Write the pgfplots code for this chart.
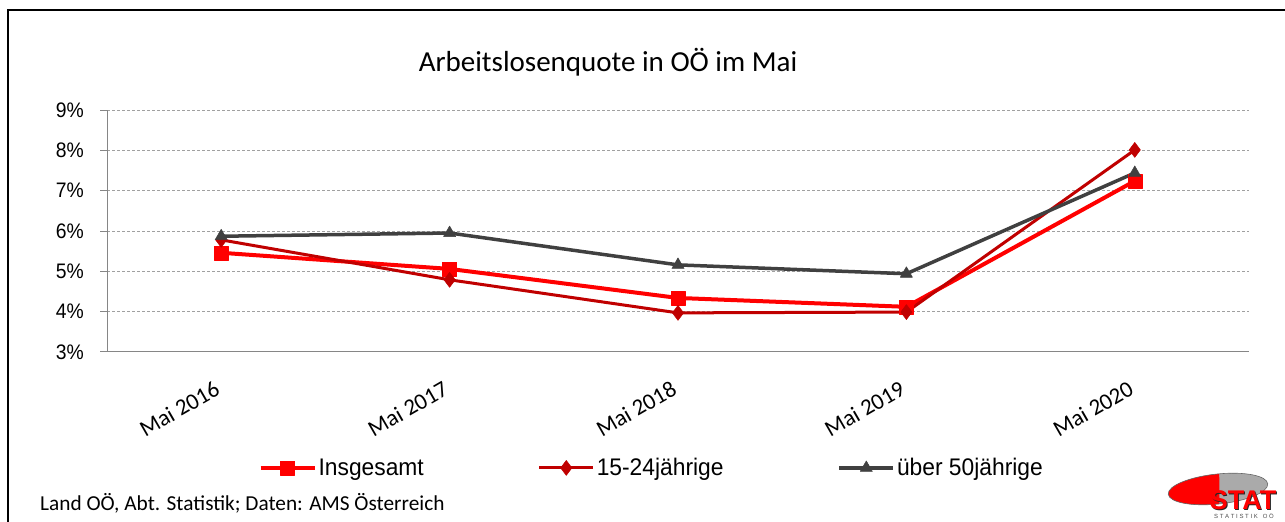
\documentclass[border=0pt]{standalone}
\usepackage{fontspec}
\setmainfont{Carlito}
\newfontfamily\narrowfont[FakeStretch=0.92]{Liberation Sans}
\newfontfamily\legfont[FakeStretch=0.95]{Liberation Sans}
\newfontfamily\logofont{Liberation Sans}
\usepackage{pgfplots}
\pgfplotsset{compat=1.18}
\definecolor{cIns}{RGB}{255,0,0}
\definecolor{cJug}{RGB}{192,0,0}
\definecolor{cAlt}{RGB}{64,64,64}
\definecolor{axgray}{RGB}{134,134,134}
\definecolor{gridgray}{RGB}{160,160,160}
\definecolor{logogray}{RGB}{170,170,170}
\begin{document}
\begin{tikzpicture}[x=1pt,y=1pt]
\useasboundingbox (0pt,0pt) rectangle (1285pt,522pt);
% frame
\draw[line width=1.3pt,black] (8pt,-10pt) rectangle (1300pt,512pt);
% title
\node[font=\fontsize{29}{34}\selectfont] at (608pt,460pt) {Arbeitslosenquote in OÖ im Mai};
\begin{axis}[
  at={(107pt,170pt)}, anchor=south west,
  scale only axis, width=1142pt, height=242pt,
  xmin=-0.5, xmax=4.5, ymin=3, ymax=9,
  axis x line*=bottom, axis y line*=left,
  axis line style={-, axgray, line width=1pt},
  xtick={0,1,2,3,4},
  xticklabels={Mai 2016,Mai 2017,Mai 2018,Mai 2019,Mai 2020},
  major x tick style={draw=none},
  extra x ticks={-0.5,0.5,1.5,2.5,3.5,4.5},
  extra x tick labels={},
  extra x tick style={major tick length=6pt, tick style={axgray,line width=1pt}},
  xticklabel style={font=\fontsize{23}{27}\selectfont, rotate=30, anchor=north east, inner sep=0pt, xshift=-17pt, yshift=-14pt},
  ytick={3,4,5,6,7,8,9},
  yticklabels={3\%,4\%,5\%,6\%,7\%,8\%,9\%},
  yticklabel style={font=\narrowfont\fontsize{21}{25}\selectfont, inner sep=0pt, xshift=-16pt},
  tick align=outside, major tick length=7pt,
  y tick style={axgray, line width=1pt},
  ymajorgrids,
  grid style={gridgray, dash pattern=on 3pt off 2pt, line width=1pt},
  clip=false,
  legend columns=3,
  legend style={at={(0.477,-0.479)}, anchor=center, draw=none, fill=none,
    font=\legfont\fontsize{24}{28}\selectfont,
    /tikz/every even column/.append style={column sep=112pt},
    inner sep=0pt},
  legend image code/.code={
    \draw[mark repeat=2,mark phase=2,#1] plot coordinates {(0pt,0pt) (27pt,0pt) (54pt,0pt)};},
]
\addplot[cIns, line width=4pt, line join=round, mark=square*, mark size=7pt, mark options={solid, line width=0.5pt}] coordinates {(0,5.46) (1,5.06) (2,4.34) (3,4.12) (4,7.24)};
\addlegendentry{Insgesamt}
\addplot[cJug, line width=3pt, line join=round, mark=diamond*, mark size=7.5pt, mark options={solid, line width=0.5pt}] coordinates {(0,5.78) (1,4.79) (2,3.97) (3,3.99) (4,8.01)};
\addlegendentry{15-24jährige}
\addplot[cAlt, line width=3.5pt, line join=round, mark=triangle*, mark size=7pt, mark options={solid, line width=0.5pt}] coordinates {(0,5.87) (1,5.95) (2,5.16) (3,4.94) (4,7.44)};
\addlegendentry{über 50jährige}
\end{axis}
% footer
\node[anchor=base west, font=\fontsize{21.3}{25}\selectfont, inner sep=0pt] at (40pt,12pt) {Land OÖ, Abt. Statistik; Daten: AMS Österreich};
% logo
\begin{scope}[rotate around={6:(1218pt,33pt)}]
\clip (1218pt,33pt) ellipse (50pt and 15pt);
\fill[logogray] (1160pt,0pt) rectangle (1285pt,60pt);
\fill[cIns] (1160pt,0pt) -- (1160pt,60pt) -- (1222pt,60pt) -- (1216pt,0pt) -- cycle;
\end{scope}
\draw[black!60, line width=0.6pt, rotate around={6:(1218pt,33pt)}] (1218pt,33pt) ellipse (50pt and 15pt);
\node[font=\logofont\bfseries\fontsize{27}{29}\selectfont, text=black!85, inner sep=0pt] at (1244pt,21pt) {STAT};
\node[font=\logofont\bfseries\fontsize{27}{29}\selectfont, text=cIns, inner sep=0pt] at (1243pt,22pt) {STAT};
\node[font=\logofont\fontsize{6}{7}\selectfont, text=black!70, inner sep=0pt] at (1244pt,6pt) {S T A T I S T I K \ \ O Ö};
\end{tikzpicture}
\end{document}
